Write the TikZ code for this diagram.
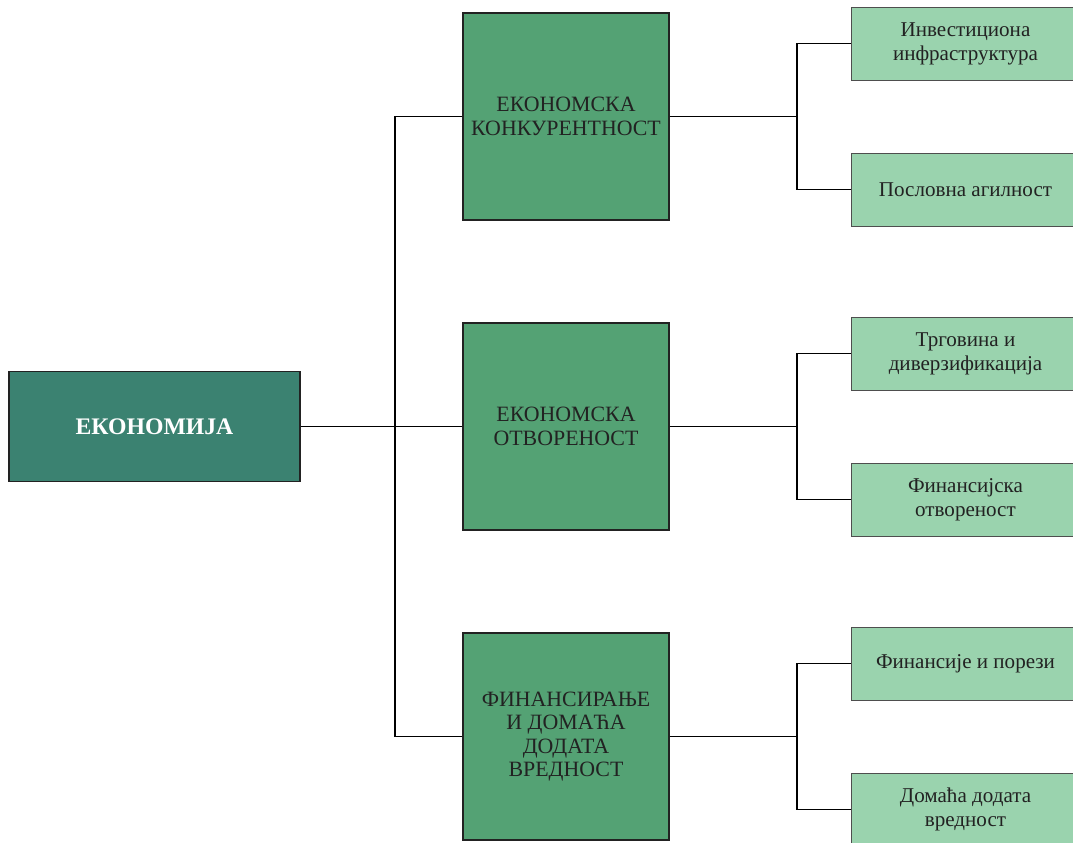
\documentclass[tikz,border=0pt]{standalone}
\usepackage{fontspec}
\setmainfont{Liberation Serif}
\definecolor{rootfill}{HTML}{3B8271}
\definecolor{midfill}{HTML}{54A274}
\definecolor{leaffill}{HTML}{9AD3AE}
\definecolor{inkgray}{HTML}{222222}
\begin{document}
\begin{tikzpicture}[x=0.75pt,y=-0.75pt,
  rootbox/.style={draw=inkgray,line width=1.4pt,fill=rootfill,text=white,
    minimum width=291*0.75pt,minimum height=110*0.75pt,inner sep=0pt,
    font=\fontsize{17.8}{20}\selectfont\bfseries,align=center},
  midbox/.style={draw=inkgray,line width=0.9pt,fill=midfill,text=inkgray,
    minimum width=206*0.75pt,minimum height=207*0.75pt,inner sep=0pt,
    font=\fontsize{16.4}{17.6}\selectfont,align=center},
  leafbox/.style={draw=inkgray!80,line width=0.7pt,fill=leaffill,text=inkgray,
    minimum width=229*0.75pt,minimum height=73*0.75pt,inner sep=0pt,
    font=\fontsize{15.8}{18}\selectfont,align=center},
  link/.style={draw=black,line width=0.8pt}]
\clip (0,0) rectangle (1073,842);
\fill[white] (0,0) rectangle (1073,842);

% root
\node[rootbox] (root) at (154.5,426.5) {ЕКОНОМИЈА};

% middle level
\node[midbox] (m1) at (566,116.5) {ЕКОНОМСКА\\КОНКУРЕНТНОСТ};
\node[midbox] (m2) at (566,426.5) {ЕКОНОМСКА\\ОТВОРЕНОСТ};
\node[midbox] (m3) at (566,736.5) {ФИНАНСИРАЊЕ\\И ДОМАЋА\\ДОДАТА\\ВРЕДНОСТ};

% leaves
\node[leafbox] (l1) at (965.5,43.5) {Инвестициона\\инфраструктура};
\node[leafbox] (l2) at (965.5,189.5) {Пословна агилност};
\node[leafbox] (l3) at (965.5,353.5) {Трговина и\\диверзификација};
\node[leafbox] (l4) at (965.5,499.5) {Финансијска\\отвореност};
\node[leafbox] (l5) at (965.5,663.5) {Финансије и порези};
\node[leafbox] (l6) at (965.5,809.5) {Домаћа додата\\вредност};

% trunk from root to middle level
\coordinate (trunk) at (395,427);
\draw[link] (root.east) -- (m2.west);
\draw[link] (m1.west) -- (trunk |- m1.west) -- (trunk |- m3.west) -- (m3.west);

% branches from middle level to leaves
\foreach \m/\a/\b in {m1/l1/l2, m2/l3/l4, m3/l5/l6}{
  \coordinate (j-\m) at (797,0);
  \draw[link] (\m.east) -- (j-\m |- \m.east);
  \draw[link] (\a.west) -- (j-\m |- \a.west) -- (j-\m |- \b.west) -- (\b.west);
}
\end{tikzpicture}
\end{document}
